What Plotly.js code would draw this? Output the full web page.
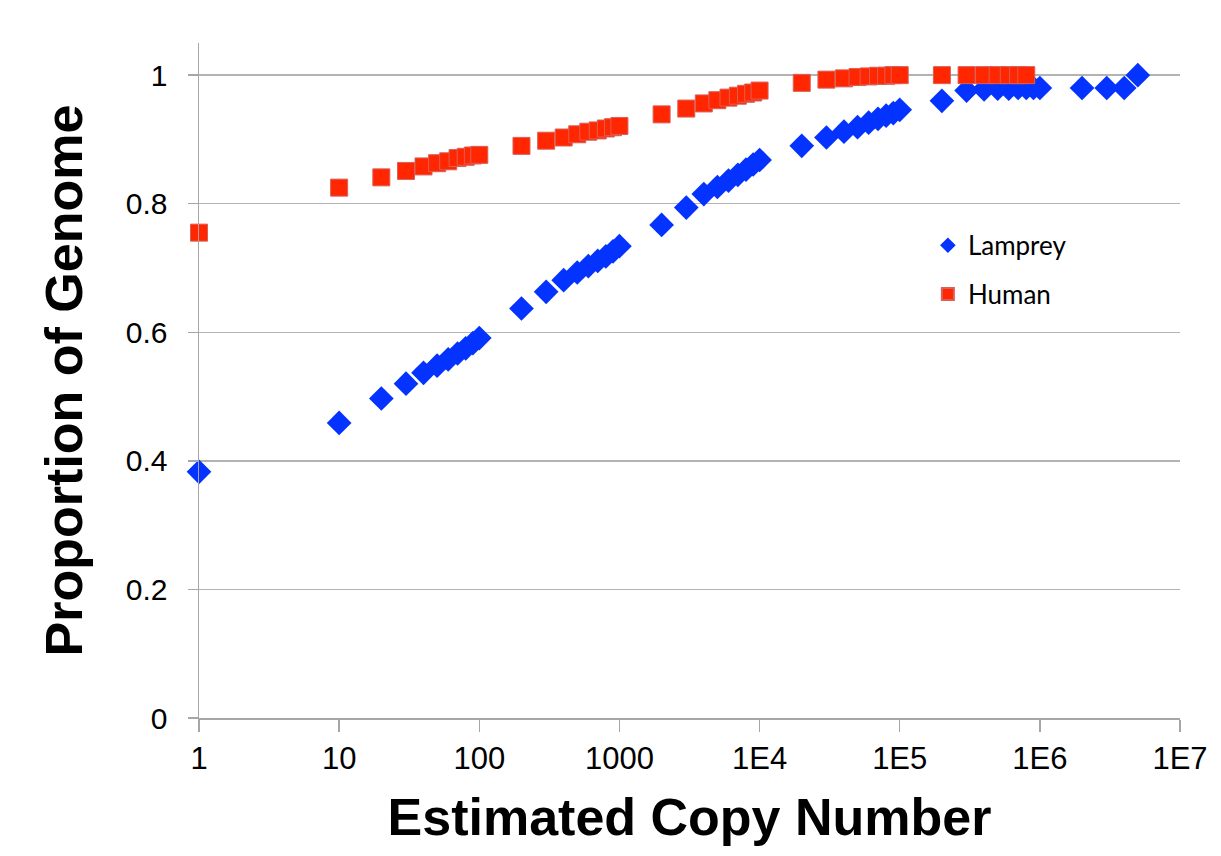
<!DOCTYPE html>
<html>
<head>
<meta charset="utf-8">
<script src="https://cdn.plot.ly/plotly-3.0.1.min.js"></script>
<style>html,body{margin:0;padding:0;background:#fff;}#chart{width:1221px;height:856px;}</style>
</head>
<body>
<div id="chart"></div>
<script>
const lampreyX = [1,10,20,30,40,50,60,70,80,90,100,200,300,400,500,600,700,800,900,1000,2000,3000,4000,5000,6000,7000,8000,9000,10000,20000,30000,40000,50000,60000,70000,80000,90000,100000,200000,300000,400000,500000,600000,700000,800000,900000,1000000,2000000,3000000,4000000,5000000];
const lampreyY = [0.383,0.459,0.497,0.520,0.537,0.548,0.558,0.567,0.575,0.583,0.591,0.637,0.663,0.681,0.693,0.703,0.711,0.718,0.726,0.734,0.767,0.794,0.815,0.826,0.836,0.845,0.853,0.861,0.868,0.890,0.903,0.912,0.919,0.926,0.932,0.937,0.941,0.946,0.960,0.976,0.978,0.979,0.979,0.980,0.980,0.980,0.980,0.980,0.980,0.980,1.0];
const humanX = [1,10,20,30,40,50,60,70,80,90,100,200,300,400,500,600,700,800,900,1000,2000,3000,4000,5000,6000,7000,8000,9000,10000,20000,30000,40000,50000,60000,70000,80000,90000,100000,200000,300000,400000,500000,600000,700000,800000];
const humanY = [0.755,0.825,0.841,0.851,0.858,0.863,0.866,0.871,0.873,0.875,0.876,0.890,0.898,0.903,0.908,0.912,0.914,0.917,0.919,0.921,0.939,0.948,0.956,0.961,0.965,0.968,0.971,0.973,0.976,0.988,0.993,0.995,0.997,0.998,0.999,0.999,1.0,1.0,1.0,1.0,1.0,1.0,1.0,1.0,1.0];
const xTickVals = [1,10,100,1000,10000,100000,1000000,10000000];
const xTickText = ['1','10','100','1000','1E4','1E5','1E6','1E7'];
const yTickVals = [0,0.2,0.4,0.6,0.8,1];
const yTickText = ['0','0.2','0.4','0.6','0.8','1'];

const traces = [
  {x: lampreyX, y: lampreyY, name: 'Lamprey', type: 'scatter', mode: 'markers', legendgroup: 'a', cliponaxis: false,
   marker: {symbol: 'diamond', size: 19, color: '#0433FF', line: {width: 0}}},
  {x: humanX, y: humanY, name: 'Human', type: 'scatter', mode: 'markers', legendgroup: 'b', cliponaxis: false,
   marker: {symbol: 'square', size: 17, color: '#FF2600', line: {width: 1, color: '#D9605A'}}}
];

const layout = {
  width: 1221, height: 856,
  margin: {l: 199, r: 41, t: 43, b: 138},
  paper_bgcolor: '#fff', plot_bgcolor: '#fff',
  font: {family: '"Liberation Sans", Arial, sans-serif', color: '#000'},
  showlegend: true,
  legend: {x: 0.743, y: 0.735, xanchor: 'left', yanchor: 'top', bgcolor: 'rgba(0,0,0,0)',
           font: {family: 'Lato, "Open Sans", sans-serif', size: 26, color: '#000'},
           tracegroupgap: 12, traceorder: 'grouped', itemsizing: 'constant'},
  xaxis: {type: 'log', range: [0, 7], tickvals: xTickVals, ticktext: xTickText,
          showgrid: false, zeroline: false, showline: true, linecolor: '#A6A6A6', linewidth: 1.5,
          ticks: 'outside', ticklen: 12, tickcolor: '#A6A6A6', tickwidth: 1.5,
          tickfont: {size: 31, family: '"Liberation Sans", Arial, sans-serif'},
          title: {text: 'Estimated Copy Number', font: {size: 52, family: '"Liberation Sans", Arial, sans-serif', weight: 'bold'}, standoff: 24}},
  yaxis: {range: [0, 1.05], tickvals: yTickVals, ticktext: yTickText,
          showgrid: true, gridcolor: '#B3B3B3', gridwidth: 1.5, zeroline: false,
          showline: true, linecolor: '#A6A6A6', linewidth: 1.5,
          ticks: 'outside', ticklen: 10, tickcolor: '#A6A6A6', tickwidth: 1.5,
          ticklabelstandoff: 14,
          tickfont: {size: 30, family: '"Liberation Sans", Arial, sans-serif'},
          title: {text: 'Proportion of Genome', font: {size: 52, family: '"Liberation Sans", Arial, sans-serif', weight: 'bold'}, standoff: 26}}
};

Plotly.newPlot('chart', traces, layout, {displayModeBar: false, staticPlot: true});
</script>
</body>
</html>
